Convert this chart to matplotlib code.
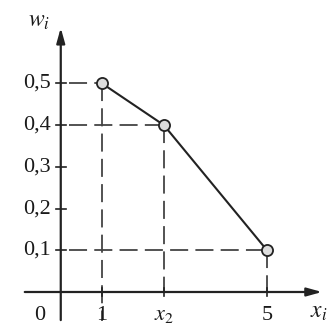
import matplotlib
matplotlib.use("Agg")
import matplotlib.pyplot as plt

x_vals = [1, 2.5, 5]
w_vals = [0.5, 0.4, 0.1]
x_tick_labels = ["1", "$x_2$", "5"]
y_ticks = [0.1, 0.2, 0.3, 0.4, 0.5]
y_tick_labels = ["0,1", "0,2", "0,3", "0,4", "0,5"]

plt.rcParams['font.family'] = ['Liberation Serif', 'DejaVu Serif']
plt.rcParams['mathtext.fontset'] = 'stix'

fig = plt.figure(figsize=(3.33, 3.30), dpi=100)
ax = fig.add_axes([0, 0, 1, 1])
ax.set_xlim(-1.473, 6.6)
ax.set_ylim(-0.0911, 0.700)
ax.axis('off')

line_c = '#222222'
dash_c = '#444444'
txt_c = '#1a1a1a'

# axes with arrows
ax.annotate('', xy=(6.4, 0), xytext=(-0.94, 0),
            arrowprops=dict(arrowstyle='-|>,head_length=0.9,head_width=0.25', color=line_c, lw=1.6))
ax.annotate('', xy=(0, 0.64), xytext=(0, -0.074),
            arrowprops=dict(arrowstyle='-|>,head_length=0.9,head_width=0.25', color=line_c, lw=1.6))

# y ticks
for yt, lab in zip(y_ticks, y_tick_labels):
    ax.plot([-0.12, 0.12], [yt, yt], color=line_c, lw=1.2)
    ax.text(-0.25, yt, lab, ha='right', va='center', fontsize=16, color=txt_c)

# dashed guides
dash = (0, (10, 4))
for i, (xv, wv) in enumerate(zip(x_vals, w_vals)):
    ax.plot([0.2, xv], [wv, wv], color=dash_c, lw=1.3, linestyle=dash)
    ybot = -0.07 if i == 0 else 0
    ax.plot([xv, xv], [wv, ybot], color=dash_c, lw=1.3, linestyle=dash)
    ax.plot([xv, xv], [-0.01, 0.01], color=line_c, lw=1.2)

# data line
ax.plot(x_vals, w_vals, color=line_c, lw=1.5, marker='o', markersize=8,
        markerfacecolor='#dddddd', markeredgecolor=line_c, markeredgewidth=1.3, zorder=5)

# x tick labels
for xv, lab in zip(x_vals, x_tick_labels):
    ax.text(xv, -0.057, lab, ha='center', va='center', fontsize=16, color=txt_c)
ax.text(-0.5, -0.057, "0", ha='center', va='center', fontsize=16, color=txt_c)

# axis labels
ax.text(-0.52, 0.648, "$w_i$", ha='center', va='center', fontsize=17, color=txt_c)
ax.text(6.25, -0.05, "$x_i$", ha='center', va='center', fontsize=17, color=txt_c)

fig.savefig("out.png", dpi=100)
